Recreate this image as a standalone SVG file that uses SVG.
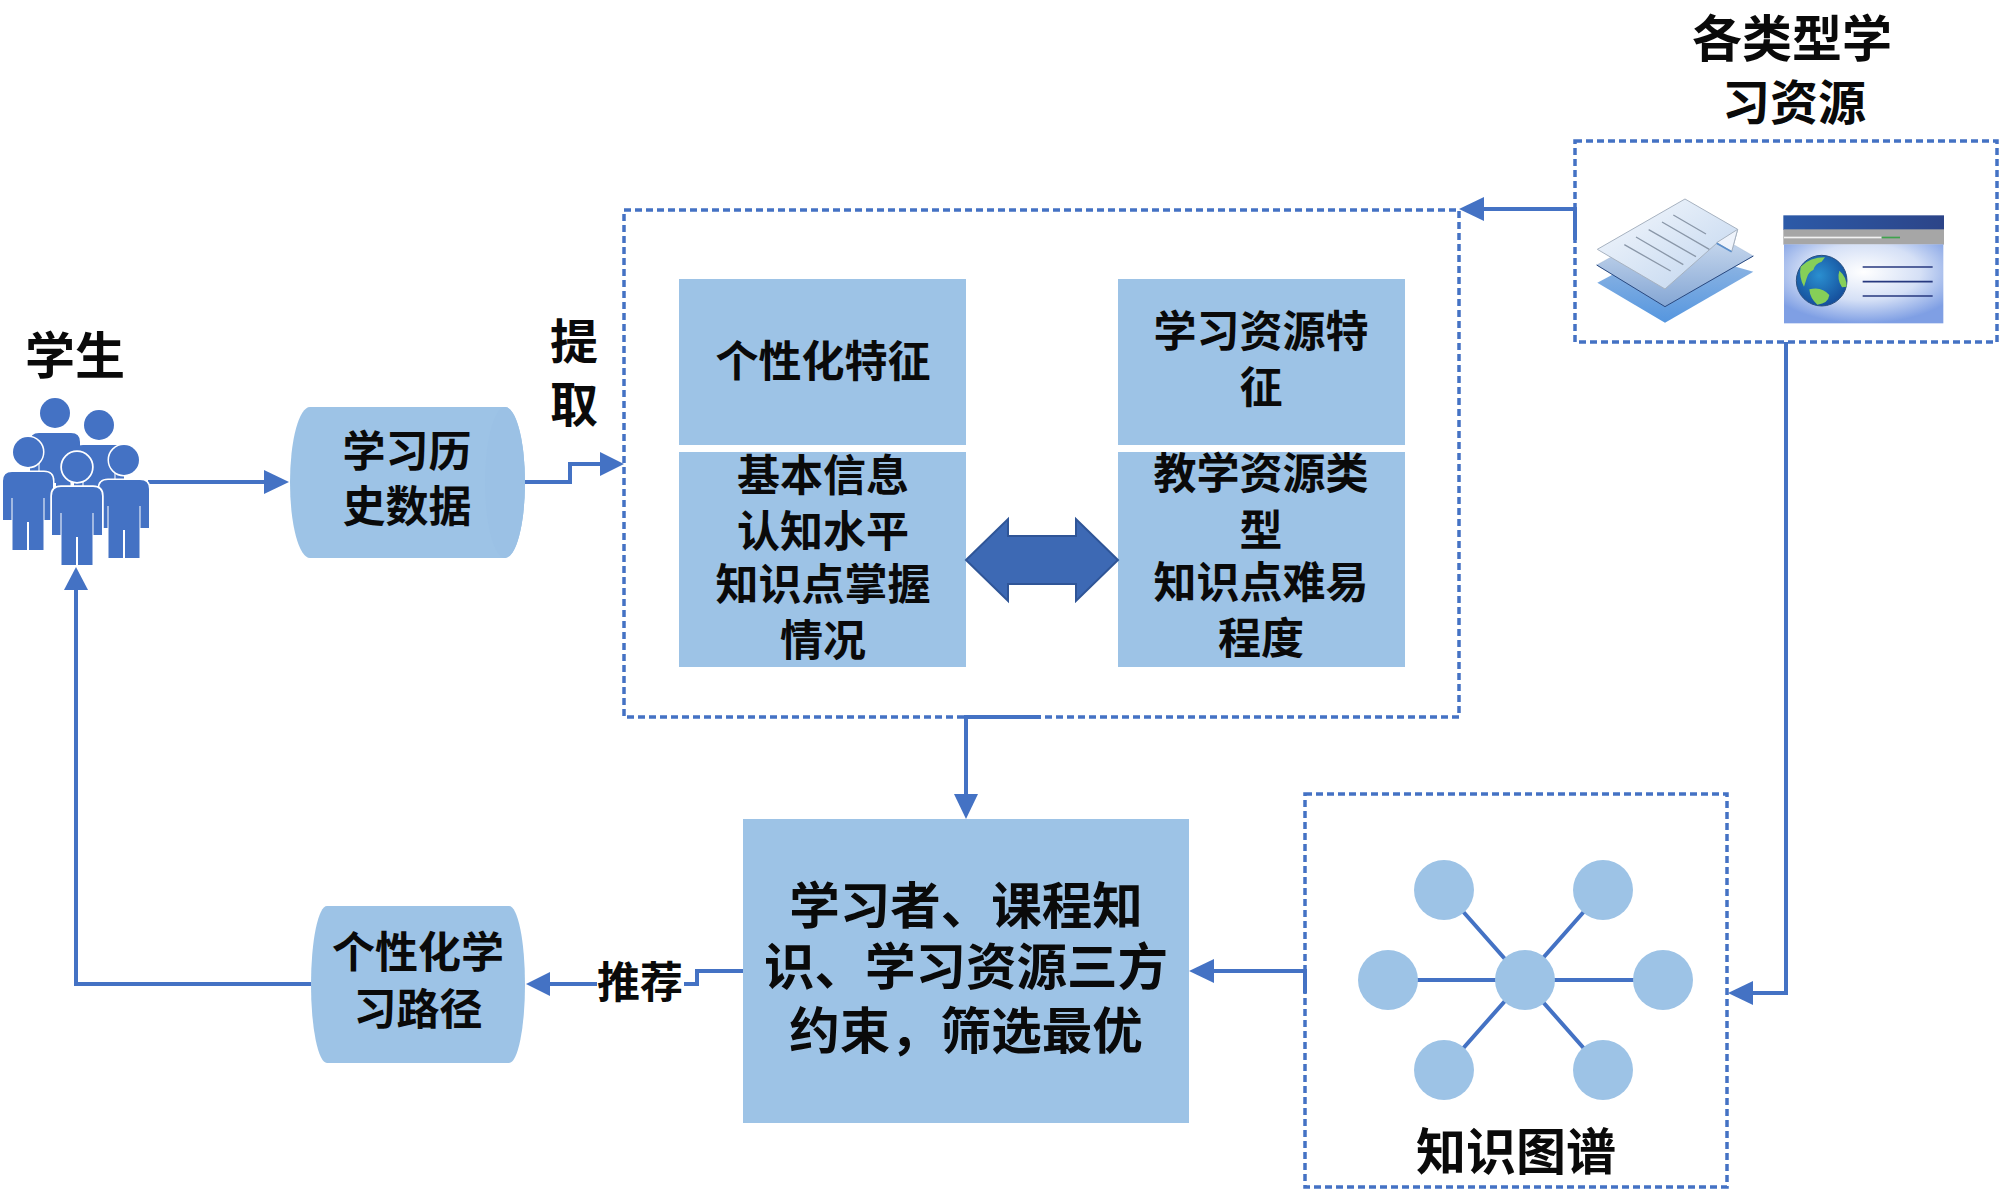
<svg xmlns="http://www.w3.org/2000/svg" width="2000" height="1202" viewBox="0 0 2000 1202">
<style>
text{font-family:"Noto Sans CJK SC","Noto Sans",sans-serif;font-weight:700;fill:#0a0a0a;text-anchor:middle;dominant-baseline:central}
.f43{font-size:43px}.f48{font-size:48px}.f50{font-size:50px}.f51{font-size:50.5px}
.box{fill:#9dc3e6}
.dash{fill:none;stroke:#4472c4;stroke-width:3.5;stroke-dasharray:7 4}
.conn{fill:none;stroke:#4472c4;stroke-width:4}
.head{fill:#4472c4}
.p{fill:#4472c4}
.edge{stroke:#4472c4;stroke-width:4}
</style>
<defs>
<g id="person">
<circle cx="0" cy="-20" r="15"/>
<path d="M-25 9Q-25 0-16 0H16Q25 0 25 9V48H16.500V26H15.500V78H1V50H-1V78H-15.500V26H-16.500V48H-25Z"/>
</g>
<linearGradient id="sheetTop" x1="0" y1="0" x2="1" y2="1"><stop offset="0" stop-color="#f6f9fd"/><stop offset="1" stop-color="#bfd4ee"/></linearGradient>
<linearGradient id="sheetMid" x1="0" y1="0" x2="0" y2="1"><stop offset="0" stop-color="#dde8f6"/><stop offset="1" stop-color="#84a6d4"/></linearGradient>
<linearGradient id="sheetLow" x1="0" y1="0" x2="0" y2="1"><stop offset="0" stop-color="#9bbce4"/><stop offset="1" stop-color="#5596df"/></linearGradient>
<radialGradient id="winBody" cx="0.5" cy="0.35" r="0.65"><stop offset="0" stop-color="#ffffff"/><stop offset="0.55" stop-color="#d5e0f6"/><stop offset="1" stop-color="#7f9fe4"/></radialGradient>
<linearGradient id="winBar" x1="0" y1="0" x2="1" y2="0"><stop offset="0" stop-color="#2c5aa8"/><stop offset="1" stop-color="#2c4488"/></linearGradient>
<radialGradient id="globe" cx="0.45" cy="0.4" r="0.6"><stop offset="0" stop-color="#2a8fd0"/><stop offset="1" stop-color="#154f9c"/></radialGradient>
</defs>

<g id="connectors">
<path class="conn" d="M148 482H265"/><path class="head" d="M289 482L264 470V494Z"/>
<path class="conn" d="M524 482H570V464H602"/><path class="head" d="M624 464L600 452V476Z"/>
<path class="conn" d="M1575 240V209H1482"/><path class="head" d="M1459 209L1484 197V221Z"/>
<path class="conn" d="M1041 717H966V796"/><path class="head" d="M966 819L954 794H978Z"/>
<path class="conn" d="M1305 993V971H1212"/><path class="head" d="M1189 971L1214 959V983Z"/>
<path class="conn" d="M1786 342V993H1750"/><path class="head" d="M1728 993L1753 981V1005Z"/>
<path class="conn" d="M743 971H697V984H684"/>
<path class="conn" d="M597 984H548"/><path class="head" d="M526 984L550 972V996Z"/>
<path class="conn" d="M311 984H76V588"/><path class="head" d="M76 567L64 590H88Z"/>
</g>

<g id="student" class="p">
<use href="#person" x="55" y="433"/>
<use href="#person" x="99" y="445"/>
<use href="#person" x="28" y="472" stroke="#fff" stroke-width="3" paint-order="stroke"/>
<use href="#person" x="124" y="480" stroke="#fff" stroke-width="3" paint-order="stroke"/>
<use href="#person" x="77" y="487" stroke="#fff" stroke-width="3.5" paint-order="stroke"/>
</g>
<text class="f50" x="75" y="352">学生</text>

<g id="history">
<path class="box" d="M310 407H505A20 75.500 0 0 1 505 558H310A20 75.500 0 0 1 310 407Z"/>
<path fill="#9bc1e5" d="M505 407A20 75.500 0 0 1 505 558A20 75.500 0 0 1 505 407Z"/>
<text class="f43" x="407" y="448">学习历</text>
<text class="f43" x="407" y="503">史数据</text>
</g>
<text class="f48" x="574" y="338">提</text>
<text class="f48" x="574" y="401">取</text>

<g id="features">
<rect class="dash" x="624" y="210" width="835" height="507"/>
<g id="personal">
<rect class="box" x="679" y="279" width="287" height="166"/>
<text class="f43" x="823" y="358">个性化特征</text>
<rect class="box" x="679" y="452" width="287" height="215"/>
<text class="f43" x="823" y="472">基本信息</text>
<text class="f43" x="823" y="528">认知水平</text>
<text class="f43" x="823" y="581">知识点掌握</text>
<text class="f43" x="823" y="637">情况</text>
</g>
<g id="resourcefeat">
<rect class="box" x="1118" y="279" width="287" height="166"/>
<text class="f43" x="1261" y="328">学习资源特</text>
<text class="f43" x="1261" y="384">征</text>
<rect class="box" x="1118" y="452" width="287" height="215"/>
<text class="f43" x="1261" y="470">教学资源类</text>
<text class="f43" x="1261" y="527">型</text>
<text class="f43" x="1261" y="579">知识点难易</text>
<text class="f43" x="1261" y="635">程度</text>
</g>
<path id="biarrow" fill="#3d69b4" stroke="#2f5597" stroke-width="2" d="M966 560L1008 519V536H1076V519L1118 560L1076 601V584H1008V601Z"/>
</g>

<g id="resources">
<rect class="dash" x="1575" y="141" width="422" height="201"/>
<g transform="translate(1560 130) scale(.33333)">
<path fill="url(#sheetLow)" d="M112 458L315 350L580 425L315 578Z"/>
<path fill="url(#sheetMid)" stroke="#8ca6c8" d="M110 405L375 260L580 378L315 530Z"/>
<path fill="none" stroke="#27477f" stroke-width="3" d="M110 405L315 530L580 378"/>
<path fill="url(#sheetTop)" stroke="#a7b2c0" stroke-width="3" d="M112 358L375 207L533 298L515 365L470 340L315 477Z"/>
<path fill="#eef3fb" stroke="#a7b2c0" stroke-width="3" d="M533 298L515 365L470 338Z"/>
<path fill="none" stroke="#5b8fcb" stroke-width="5" d="M470 340L515 365"/>
<path fill="none" stroke="#8a97a8" stroke-width="4" d="M340 255L438 312M306 276L448 358M266 299L408 380M228 321L370 404M193 344L332 423"/>
<rect x="670" y="256" width="482" height="44" fill="url(#winBar)"/>
<rect x="670" y="298" width="482" height="46" fill="#a6a6a6"/>
<rect x="672" y="320" width="293" height="5" fill="#f2f2f2"/>
<rect x="965" y="320" width="55" height="5" fill="#3fa34d"/>
<rect x="672" y="343" width="478" height="237" fill="url(#winBody)"/>
<circle cx="785" cy="452" r="76" fill="url(#globe)" stroke="#2a4f80" stroke-width="3"/>
<path fill="#86cf58" d="M722 410Q750 382 795 382L785 395Q765 400 760 420Q745 425 740 445L732 470Q716 440 722 410ZM748 478Q785 468 808 495Q805 520 772 524Q750 505 748 478ZM838 422Q860 440 860 470L846 472Q830 448 838 422Z"/>
<path fill="none" stroke="#27397f" stroke-width="5" d="M908 411H1118M908 455H1118M908 498H1118"/>
</g>
</g>
<text class="f50" x="1792" y="35">各类型学</text>
<text class="f48" x="1794" y="99">习资源</text>

<g id="constraint">
<rect class="box" x="743" y="819" width="446" height="304"/>
<text class="f51" x="966" y="902">学习者、课程知</text>
<text class="f51" x="966" y="963">识、学习资源三方</text>
<text class="f51" x="966" y="1027">约束，筛选最优</text>
</g>

<g id="path">
<path class="box" d="M327 906H509A16 78.500 0 0 1 509 1063H327A16 78.500 0 0 1 327 906Z"/>
<text class="f43" x="418" y="949">个性化学</text>
<text class="f43" x="418" y="1006">习路径</text>
</g>
<text class="f43" x="640" y="979">推荐</text>

<g id="kg">
<rect class="dash" x="1305" y="794" width="422" height="393"/>
<path class="edge" d="M1388 980H1663M1444 890L1603 1070M1603 890L1444 1070"/>
<g class="box"><circle cx="1525" cy="980" r="30"/><circle cx="1388" cy="980" r="30"/><circle cx="1663" cy="980" r="30"/><circle cx="1444" cy="890" r="30"/><circle cx="1603" cy="890" r="30"/><circle cx="1444" cy="1070" r="30"/><circle cx="1603" cy="1070" r="30"/></g>
<text class="f50" x="1516" y="1148">知识图谱</text>
</g>
</svg>
